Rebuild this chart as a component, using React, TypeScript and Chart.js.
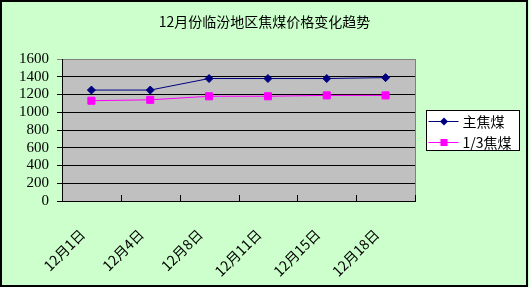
import React, { useEffect, useRef } from "react";
import { Chart, registerables } from "chart.js";

Chart.register(...registerables);

const titleText = "12月份临汾地区焦煤价格变化趋势";
const categories = ["12月1日", "12月4日", "12月8日", "12月11日", "12月15日", "12月18日"];
const mainCoking = [1250, 1250, 1380, 1380, 1380, 1390];
const thirdCoking = [1130, 1140, 1180, 1180, 1190, 1190];
const seriesNames = ["主焦煤", "1/3焦煤"];
const yMin = 0;
const yMax = 1600;
const yStep = 200;

const W = 529;
const H = 287;

// Green page, title, plot fill and frame
const framePlugin = {
  id: "frame",
  beforeDraw(chart: any) {
    const { ctx, chartArea: a } = chart;
    ctx.save();
    ctx.fillStyle = "#CCFFCC";
    ctx.fillRect(0, 0, W, H);
    ctx.strokeStyle = "#000";
    ctx.lineWidth = 2;
    ctx.strokeRect(1, 1, W - 3, H - 2);
    ctx.fillStyle = "#000";
    ctx.font = '14px "Noto Sans CJK SC"';
    ctx.textAlign = "center";
    ctx.textBaseline = "middle";
    ctx.fillText(titleText, W / 2, 22);
    ctx.fillStyle = "#C0C0C0";
    ctx.fillRect(a.left, a.top, a.right - a.left, a.bottom - a.top);
    ctx.strokeStyle = "#808080";
    ctx.lineWidth = 1;
    ctx.strokeRect(Math.round(a.left) + 0.5, Math.round(a.top) + 0.5, Math.round(a.right - a.left), Math.round(a.bottom - a.top));
    ctx.restore();
  },
};

// Small category-boundary ticks pointing into the plot
const insideTicksPlugin = {
  id: "insideTicks",
  afterDatasetsDraw(chart: any) {
    const { ctx, chartArea: a } = chart;
    const xs = chart.scales.x;
    const n = categories.length;
    const half = (xs.getPixelForValue(1) - xs.getPixelForValue(0)) / 2;
    ctx.save();
    ctx.strokeStyle = "#000";
    ctx.lineWidth = 1;
    ctx.beginPath();
    for (let i = 0; i < n; i++) {
      const x = Math.round(xs.getPixelForValue(i) + half) + 0.5;
      ctx.moveTo(x, a.bottom);
      ctx.lineTo(x, a.bottom - 6);
    }
    ctx.stroke();
    ctx.restore();
  },
};

function drawMarker(ctx: CanvasRenderingContext2D, style: string, x: number, y: number, r: number, color: string) {
  ctx.fillStyle = color;
  ctx.beginPath();
  if (style === "rectRot") {
    ctx.moveTo(x, y - r);
    ctx.lineTo(x + r, y);
    ctx.lineTo(x, y + r);
    ctx.lineTo(x - r, y);
    ctx.closePath();
  } else {
    const s = r * Math.SQRT1_2;
    ctx.rect(x - s, y - s, 2 * s, 2 * s);
  }
  ctx.fill();
}

// Boxed legend to the right of the plot
const boxLegendPlugin = {
  id: "boxLegend",
  afterDraw(chart: any) {
    const { ctx, chartArea: a } = chart;
    const left = Math.round(a.right) + 11.5;
    const top = 110.5;
    const w = 93;
    const h = 40;
    ctx.save();
    ctx.fillStyle = "#FFFFFF";
    ctx.fillRect(left, top, w, h);
    ctx.strokeStyle = "#000";
    ctx.lineWidth = 1;
    ctx.strokeRect(left, top, w, h);
    ctx.font = '14px "Noto Sans CJK SC"';
    ctx.textBaseline = "middle";
    ctx.textAlign = "left";
    chart.data.datasets.forEach((ds: any, i: number) => {
      const y = Math.round(top + 10.5 + i * 21) + 0.5;
      ctx.strokeStyle = ds.borderColor;
      ctx.beginPath();
      ctx.moveTo(left + 2, y);
      ctx.lineTo(left + 32, y);
      ctx.stroke();
      drawMarker(ctx, ds.pointStyle, left + 17.5, y, ds.pointRadius, ds.pointBackgroundColor);
      ctx.fillStyle = "#000";
      ctx.fillText(ds.label, left + 36, y);
    });
    ctx.restore();
  },
};

export default function App() {
  const ref = useRef<HTMLCanvasElement>(null);

  useEffect(() => {
    document.body.style.margin = "0";
    const canvas = ref.current;
    if (!canvas) return;
    const chart = new Chart(canvas, {
      type: "line",
      data: {
        labels: categories,
        datasets: [
          {
            label: seriesNames[0],
            data: mainCoking,
            borderColor: "#000080",
            backgroundColor: "#000080",
            pointBackgroundColor: "#000080",
            pointBorderColor: "#000080",
            pointStyle: "rectRot",
            pointRadius: 4,
            borderWidth: 1,
            tension: 0,
          },
          {
            label: seriesNames[1],
            data: thirdCoking,
            borderColor: "#FF00FF",
            backgroundColor: "#FF00FF",
            pointBackgroundColor: "#FF00FF",
            pointBorderColor: "#FF00FF",
            pointStyle: "rect",
            pointRadius: 5,
            borderWidth: 1,
            tension: 0,
          },
        ],
      },
      options: {
        responsive: false,
        animation: false,
        devicePixelRatio: 1,
        layout: { padding: { left: 0, right: 114, top: 59, bottom: 0 } },
        plugins: {
          legend: { display: false },
          tooltip: { enabled: false },
          title: { display: false },
        },
        scales: {
          x: {
            type: "category",
            offset: true,
            afterFit: (s: any) => {
              s.height = 86;
            },
            grid: { display: false, offset: true },
            border: { display: true, color: "#000", width: 1 },
            ticks: {
              color: "#000",
              minRotation: 45,
              maxRotation: 45,
              padding: 17,
              labelOffset: -9,
              font: { family: '"Noto Sans CJK SC"', size: 14 },
            },
          },
          y: {
            min: yMin,
            max: yMax,
            afterFit: (s: any) => {
              s.width = 62;
            },
            grid: {
              color: (c: any) => (c.tick && c.tick.value === yMax ? "#808080" : "#000"),
              tickLength: 5,
              lineWidth: 1,
            },
            border: { display: true, color: "#000", width: 1 },
            ticks: {
              stepSize: yStep,
              autoSkip: false,
              color: "#000",
              padding: 8,
              callback: (v: any) => String(v),
              font: { family: '"Liberation Serif"', size: 15, lineHeight: 1 },
            },
          },
        },
      },
      plugins: [framePlugin, insideTicksPlugin, boxLegendPlugin],
    });
    return () => chart.destroy();
  }, []);

  return (
    <div style={{ width: W, height: H }}>
      <canvas ref={ref} width={W} height={H} style={{ display: "block", width: W, height: H }} />
    </div>
  );
}
